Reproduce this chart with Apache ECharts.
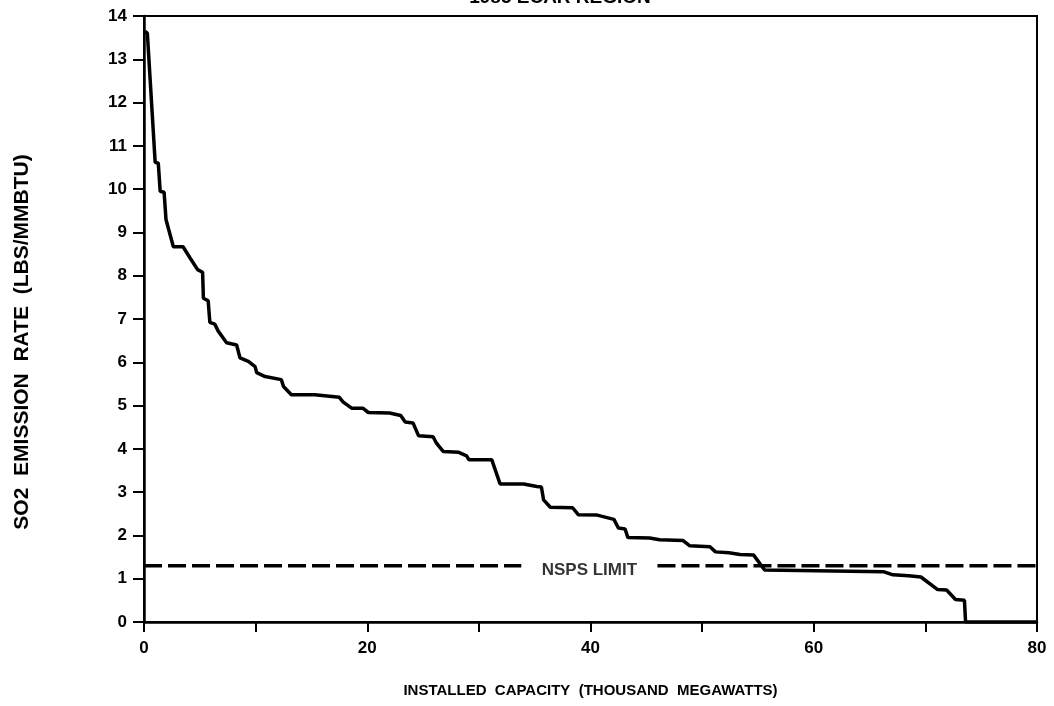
<!DOCTYPE html>
<html>
<head>
<meta charset="utf-8">
<script src="https://cdn.jsdelivr.net/npm/echarts@6/dist/echarts.min.js"></script>
<style>
  html, body { margin: 0; padding: 0; background: #fff; }
  #chart { width: 1054px; height: 706px; }
</style>
</head>
<body>
<div id="chart"></div>
<script>
// SO2 emission rate vs cumulative installed capacity
const capacity = [0.1, 0.3, 1.0, 1.28, 1.45, 1.8, 1.97, 2.63, 3.5, 4.1, 4.8, 5.25, 5.32, 5.75, 5.9, 6.35, 6.65, 7.4, 8.3, 8.6,
  9.35, 9.95, 10.1, 10.85, 12.3, 12.5, 13.2, 15.3, 17.5, 17.85, 18.6, 19.6, 20.1, 22.0, 23.0, 23.4, 24.1, 24.6, 25.9, 26.2,
  26.8, 28.2, 28.9, 29.1, 31.15, 31.9, 34.0, 35.2, 35.6, 35.8, 36.4, 38.4, 38.9, 40.6, 42.1, 42.5, 43.1, 43.35, 45.3, 46.2,
  48.3, 48.9, 50.7, 51.2, 52.4, 53.4, 54.6, 55.6, 66.3, 67.1, 68.5, 69.6, 71.1, 71.9, 72.7, 73.5, 73.6, 80];
const emission = [13.65, 13.6, 10.62, 10.6, 9.95, 9.93, 9.3, 8.67, 8.67, 8.42, 8.14, 8.08, 7.48, 7.42, 6.92, 6.88, 6.72, 6.45, 6.4, 6.1,
  6.02, 5.9, 5.76, 5.67, 5.6, 5.44, 5.25, 5.25, 5.19, 5.08, 4.94, 4.94, 4.84, 4.83, 4.77, 4.62, 4.6, 4.3, 4.28, 4.13,
  3.94, 3.92, 3.84, 3.75, 3.75, 3.19, 3.19, 3.13, 3.12, 2.82, 2.65, 2.64, 2.48, 2.47, 2.37, 2.17, 2.15, 1.95, 1.94, 1.9,
  1.88, 1.76, 1.74, 1.62, 1.6, 1.56, 1.55, 1.2, 1.16, 1.09, 1.07, 1.04, 0.75, 0.74, 0.52, 0.5, 0, 0];

// NSPS limit dashed line, broken where the label sits
const nspsLimit = 1.3;
const nspsLeft = [0, 33.8];
const nspsRight = [46.0, 80];
const nspsLabel = { x: 39.9, y: 1.2, text: "NSPS LIMIT" };

const titleText = "1985 ECAR REGION";
const xName = "INSTALLED  CAPACITY  (THOUSAND  MEGAWATTS)";
const yName = "SO2  EMISSION  RATE  (LBS/MMBTU)";

const font = "Liberation Sans";
const chart = echarts.init(document.getElementById("chart"), null, { renderer: "canvas" });

const curve = capacity.map((x, i) => [x, emission[i]]);
const dashStyle = { color: "#000", width: 3.5, type: [18, 6] };

chart.setOption({
  animation: false,
  backgroundColor: "#fff",
  // title runs off the top edge of the scan, only its foot shows
  graphic: [
    {
      type: "text", x: 560, y: 7,
      style: { text: titleText, align: "center", verticalAlign: "bottom",
        font: "bold 19px " + font, fill: "#000" },
    },
    {
      type: "text", x: 22, y: 342, rotation: Math.PI / 2,
      style: { text: yName, align: "center", verticalAlign: "middle",
        font: "bold 21px " + font, fill: "#000" },
    },
  ],
  grid: { left: 144, right: 17, top: 16, bottom: 84, show: true, borderColor: "#000", borderWidth: 2 },
  xAxis: {
    type: "value", min: 0, max: 80, interval: 10,
    name: xName, nameLocation: "middle", nameGap: 61,
    nameTextStyle: { fontFamily: font, fontWeight: "bold", fontSize: 15, color: "#000" },
    axisLine: { lineStyle: { color: "#000", width: 2.5 } },
    axisTick: { length: 10, lineStyle: { color: "#000", width: 2 } },
    axisLabel: {
      margin: 18, fontFamily: font, fontWeight: "bold", fontSize: 17, color: "#000",
      formatter: (v) => (v % 20 === 0 ? String(v) : ""),
    },
    splitLine: { show: false },
  },
  yAxis: {
    type: "value", min: 0, max: 14, interval: 1,
    axisLine: { lineStyle: { color: "#000", width: 2.5 } },
    axisTick: { length: 11, lineStyle: { color: "#000", width: 2 } },
    axisLabel: { margin: 17, fontFamily: font, fontWeight: "bold", fontSize: 17, color: "#000" },
    splitLine: { show: false },
  },
  series: [
    {
      type: "line", data: curve, showSymbol: false,
      lineStyle: { color: "#000", width: 3.5 }, z: 3,
    },
    {
      type: "line", data: nspsLeft.map((x) => [x, nspsLimit]), showSymbol: false,
      lineStyle: dashStyle, z: 2,
    },
    {
      type: "line", data: nspsRight.map((x) => [x, nspsLimit]), showSymbol: false,
      lineStyle: dashStyle, z: 2,
    },
    {
      type: "scatter", symbolSize: 0, data: [[nspsLabel.x, nspsLabel.y]],
      label: {
        show: true, position: "inside", formatter: nspsLabel.text,
        fontFamily: font, fontWeight: "bold", fontSize: 17, color: "#000",
      },
    },
  ],
});
</script>
</body>
</html>
